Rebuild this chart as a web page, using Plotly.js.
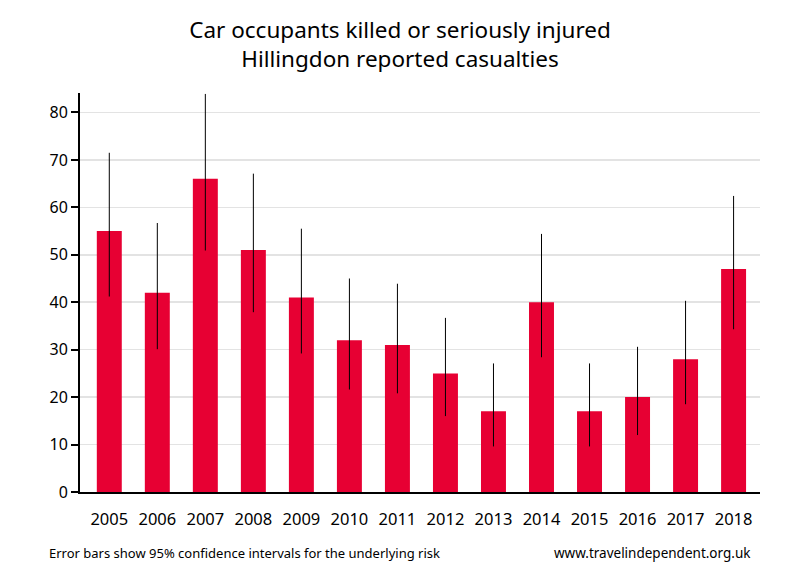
<!DOCTYPE html>
<html>
<head>
<meta charset="utf-8">
<script src="https://cdn.plot.ly/plotly-3.0.1.min.js"></script>
<style>html,body{margin:0;padding:0;background:#fff;}#chart{width:800px;height:580px;}</style>
</head>
<body>
<div id="chart"></div>
<script>
const years = ["2005","2006","2007","2008","2009","2010","2011","2012","2013","2014","2015","2016","2017","2018"];
const casualties = [55, 42, 66, 51, 41, 32, 31, 25, 17, 40, 17, 20, 28, 47];
const ciUpper = [71.5, 56.7, 83.9, 67.1, 55.5, 45.0, 43.9, 36.7, 27.1, 54.4, 27.1, 30.6, 40.3, 62.4];
const ciLower = [41.2, 30.1, 50.9, 37.9, 29.2, 21.6, 20.8, 16.0, 9.6, 28.4, 9.6, 12.0, 18.5, 34.3];

const errPlus = casualties.map((v, i) => ciUpper[i] - v);
const errMinus = casualties.map((v, i) => v - ciLower[i]);

const trace = {
  type: 'bar',
  x: years,
  y: casualties,
  marker: {color: '#e70033'},
  error_y: {type: 'data', symmetric: false, array: errPlus, arrayminus: errMinus,
            color: '#000', thickness: 1, width: 0},
  hoverinfo: 'x+y'
};

const font = "'Noto Sans', 'Open Sans', sans-serif";
const layout = {
  width: 800, height: 580,
  margin: {l: 80, r: 40, t: 93, b: 88},
  paper_bgcolor: '#fff', plot_bgcolor: '#fff',
  showlegend: false,
  bargap: 0.48,
  title: {text: 'Car occupants killed or seriously injured<br>Hillingdon reported casualties',
          font: {family: font, size: 22.5, color: '#000'}, x: 0.5, xanchor: 'center', y: 0.935, yanchor: 'top'},
  xaxis: {type: 'category', range: [-0.61, 13.55], showgrid: false, zeroline: false,
          showline: true, linecolor: '#000', linewidth: 2,
          ticks: 'outside', ticklen: 11, tickcolor: 'rgba(0,0,0,0)',
          tickfont: {family: font, size: 16.5, color: '#000'}},
  yaxis: {range: [0, 84.1], dtick: 10, showgrid: true, gridcolor: '#e3e3e3', gridwidth: 1.5,
          zeroline: false, showline: true, linecolor: '#000', linewidth: 2,
          ticks: 'outside', ticklen: 7, tickwidth: 2, tickcolor: '#000',
          tickfont: {family: font, size: 16, color: '#000'}},
  annotations: [
    {text: 'Error bars show 95% confidence intervals for the underlying risk', xref: 'paper', yref: 'paper',
     x: -0.048, y: -0.152, xanchor: 'left', yanchor: 'middle', showarrow: false,
     font: {family: font, size: 13, color: '#000'}},
    {text: 'www.travelindependent.org.uk', xref: 'paper', yref: 'paper',
     x: 0.99, y: -0.152, xanchor: 'right', yanchor: 'middle', showarrow: false,
     font: {family: font, size: 13.5, color: '#000'}}
  ]
};

Plotly.newPlot('chart', [trace], layout, {displayModeBar: false, staticPlot: true});
</script>
</body>
</html>
